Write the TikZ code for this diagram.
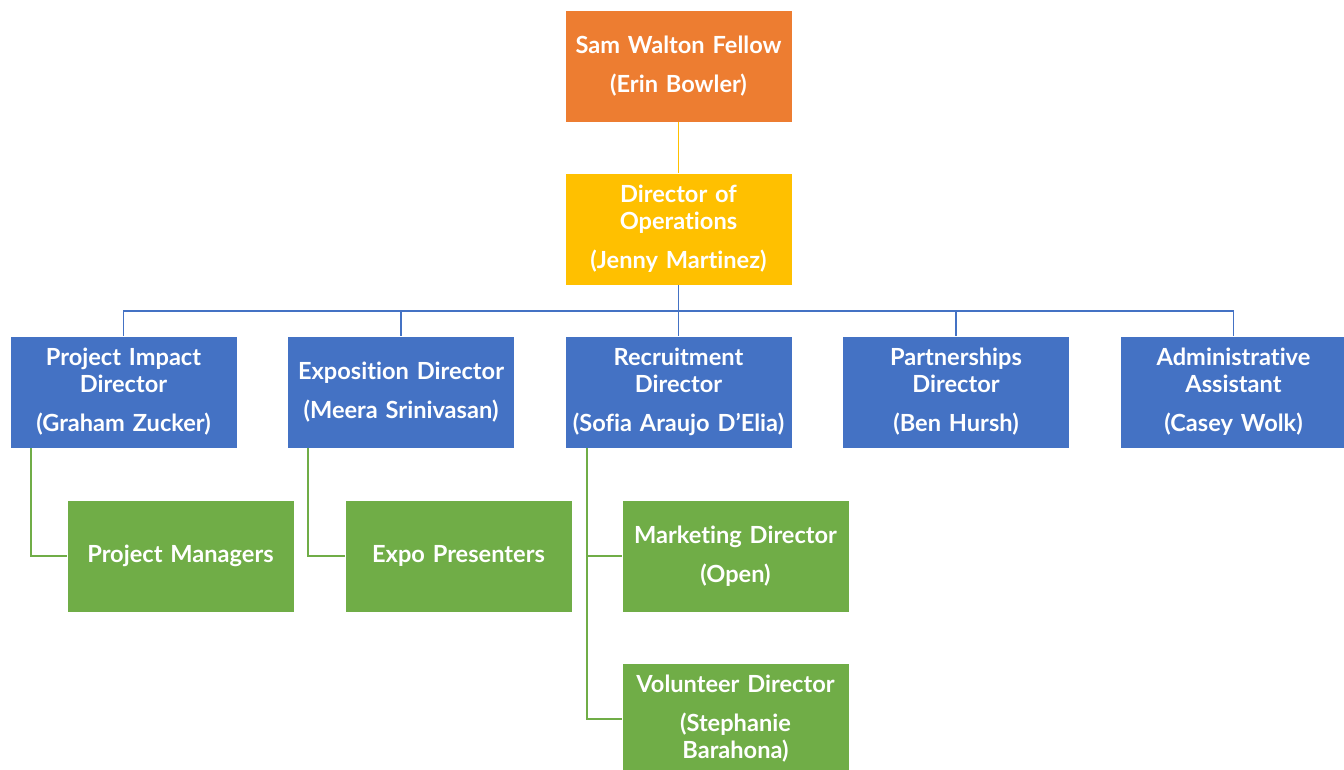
\documentclass[tikz,border=0pt]{standalone}
\usepackage{fontspec}
\setmainfont{Lato}[Ligatures=NoCommon]
\definecolor{cblue}{HTML}{4472C4}
\definecolor{cgreen}{HTML}{70AD47}
\definecolor{corange}{HTML}{ED7D31}
\definecolor{cyellow}{HTML}{FFC000}
\begin{document}
\begin{tikzpicture}[x=0.5pt,y=-0.5pt,
  box/.style={draw=white, line width=0.4pt, minimum width=113.5pt, minimum height=56pt,
    inner sep=1pt, text width=111pt, align=center, text=white,
    font=\bfseries\fontsize{11.8}{13.5}\selectfont},
  bluebox/.style={box, fill=cblue},
  greenbox/.style={box, fill=cgreen},
  conn/.style={line width=0.9pt}]
\useasboundingbox (0,0) rectangle (1344,770);
\node[box, fill=corange] (swf) at (678.5,66) {Sam Walton Fellow\\[6pt](Erin Bowler)};
\node[box, fill=cyellow] (ops) at (678.5,229) {Director of\\Operations\\[6pt](Jenny Martinez)};
\node[bluebox] (pid) at (123.5,392) {Project Impact\\Director\\[6pt](Graham Zucker)};
\node[bluebox] (exd) at (401,392) {Exposition Director\\[6pt](Meera Srinivasan)};
\node[bluebox] (rd) at (678.5,392) {Recruitment\\Director\\[6pt](Sofia Araujo D’Elia)};
\node[bluebox] (pd) at (956,392) {Partnerships\\Director\\[6pt](Ben Hursh)};
\node[bluebox] (aa) at (1233.5,392) {Administrative\\Assistant\\[6pt](Casey Wolk)};
\node[greenbox] (pm) at (180.5,556) {Project Managers};
\node[greenbox] (ep) at (458.5,556) {Expo Presenters};
\node[greenbox] (md) at (735.5,556) {Marketing Director\\[6pt](Open)};
\node[greenbox] (vd) at (735.5,719) {Volunteer Director\\[6pt](Stephanie\\Barahona)};
\coordinate (bus) at (678.5,311);
\draw[conn, cyellow] (swf.south) -- (ops.north);
\draw[conn, cblue] (ops.south) -- (bus);
\foreach \n in {pid,exd,rd,pd,aa} \draw[conn, cblue] (\n.north) |- (bus);
\draw[conn, cgreen] ([xshift=10.5pt]pid.south west) |- (pm.west);
\draw[conn, cgreen] ([xshift=10.5pt]exd.south west) |- (ep.west);
\draw[conn, cgreen] ([xshift=11pt]rd.south west) |- (md.west);
\draw[conn, cgreen] ([xshift=11pt]rd.south west) |- (vd.west);
\end{tikzpicture}
\end{document}
